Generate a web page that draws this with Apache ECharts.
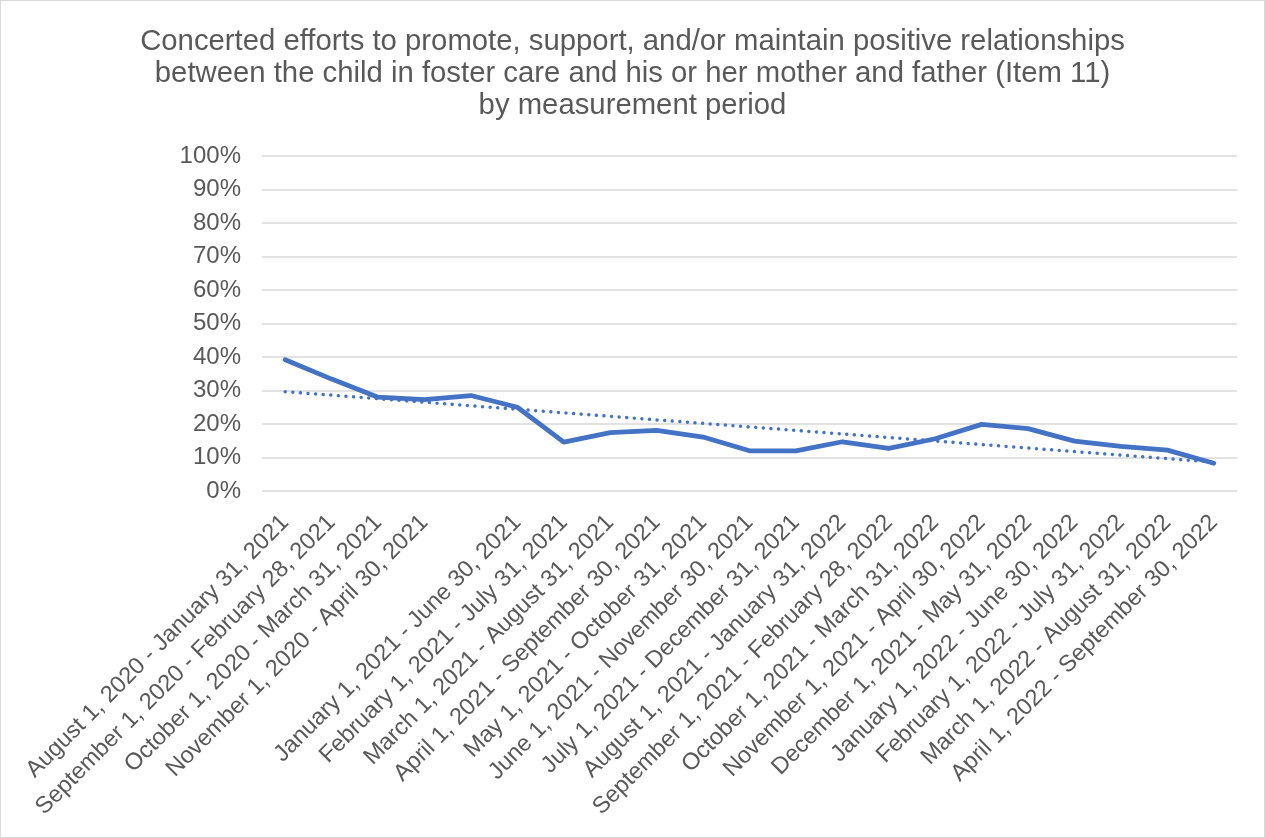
<!DOCTYPE html>
<html>
<head>
<meta charset="utf-8">
<script src="https://cdn.jsdelivr.net/npm/echarts@6/dist/echarts.min.js"></script>
<style>
html,body{margin:0;padding:0;background:#fff;}
#chart{width:1265px;height:838px;box-sizing:border-box;border:1px solid #D9D9D9;}
</style>
</head>
<body>
<div id="chart"></div>
<script>
const titleText = "Concerted efforts to promote, support, and/or maintain positive relationships\nbetween the child in foster care and his or her mother and father (Item 11)\nby measurement period";

const categories = [
  "August 1, 2020 - January 31, 2021",
  "September 1, 2020 - February 28, 2021",
  "October 1, 2020 - March 31, 2021",
  "November 1, 2020 - April 30, 2021",
  "",
  "January 1, 2021 - June 30, 2021",
  "February 1, 2021 - July 31, 2021",
  "March 1, 2021 - August 31, 2021",
  "April 1, 2021 - September 30, 2021",
  "May 1, 2021 - October 31, 2021",
  "June 1, 2021 - November 30, 2021",
  "July 1, 2021 - December 31, 2021",
  "August 1, 2021 - January 31, 2022",
  "September 1, 2021 - February 28, 2022",
  "October 1, 2021 - March 31, 2022",
  "November 1, 2021 - April 30, 2022",
  "December 1, 2021 - May 31, 2022",
  "January 1, 2022 - June 30, 2022",
  "February 1, 2022 - July 31, 2022",
  "March 1, 2022 - August 31, 2022",
  "April 1, 2022 - September 30, 2022"
];

const values = [39.2, 33.4, 28.0, 27.3, 28.5, 25.0, 14.6, 17.4, 18.1, 16.1, 12.0, 12.0, 14.7, 12.7, 15.6, 19.9, 18.6, 14.9, 13.3, 12.2, 8.3];

const yTicks = [0, 10, 20, 30, 40, 50, 60, 70, 80, 90, 100];

// linear least-squares trendline derived from the series (as Excel's linear trendline)
function linearTrend(ys) {
  const n = ys.length;
  let sx = 0, sy = 0, sxy = 0, sxx = 0;
  ys.forEach((y, i) => { sx += i; sy += y; sxy += i * y; sxx += i * i; });
  const b = (n * sxy - sx * sy) / (n * sxx - sx * sx);
  const a = (sy - b * sx) / n;
  return ys.map((_, i) => a + b * i);
}
const trend = linearTrend(values);

const chart = echarts.init(document.getElementById('chart'), null, {renderer: 'canvas'});
const font = 'Liberation Sans, Arial, sans-serif';
chart.setOption({
  animation: false,
  textStyle: {fontFamily: font},
  title: {
    text: titleText,
    left: 'center',
    top: 20,
    textStyle: {fontFamily: font, fontSize: 29.3, fontWeight: 'normal', color: '#595959', lineHeight: 32}
  },
  grid: {left: 261, right: 27, top: 155, bottom: 346, containLabel: false},
  xAxis: {
    type: 'category',
    data: categories,
    boundaryGap: true,
    axisLine: {show: false},
    axisTick: {show: false},
    axisLabel: {interval: 0, rotate: 45, fontSize: 23.5, color: '#595959', margin: 28, fontFamily: font}
  },
  yAxis: {
    type: 'value',
    min: yTicks[0],
    max: yTicks[yTicks.length - 1],
    interval: 10,
    axisLine: {show: false},
    axisTick: {show: false},
    splitLine: {lineStyle: {color: '#D9D9D9', width: 1.5}},
    axisLabel: {formatter: '{value}%', fontSize: 24, color: '#595959', margin: 21, fontFamily: font}
  },
  series: [
    {
      name: 'Item 11',
      type: 'line',
      data: values,
      symbol: 'none',
      lineStyle: {color: '#4472C4', width: 4.8, cap: 'round', join: 'round'}
    },
    {
      name: 'Linear trend',
      type: 'line',
      data: trend,
      symbol: 'none',
      lineStyle: {color: '#4472C4', width: 3.5, type: [0.01, 7.6], cap: 'round'}
    }
  ]
});
</script>
</body>
</html>
